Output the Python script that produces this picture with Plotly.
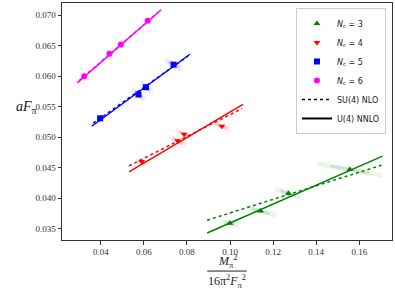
import plotly.graph_objects as go

# ---- data ----
n3_x = [0.0999, 0.1142, 0.1271, 0.1556]
n3_y = [0.0359, 0.0379, 0.0408, 0.0447]
n3_dx = [0.004, 0.007, 0.006, 0.015]
n3_dy = [0.0003, 0.0007, 0.0007, 0.0010]

n4_x = [0.0590, 0.0757, 0.0787, 0.0962]
n4_y = [0.0460, 0.0494, 0.0505, 0.0518]
n4_dx = [0.002, 0.004, 0.004, 0.004]
n4_dy = [0.0003, 0.0007, 0.0007, 0.0007]

n5_x = [0.0397, 0.0575, 0.0610, 0.0738]
n5_y = [0.0531, 0.0570, 0.0582, 0.0619]
n5_dx = [0.0015, 0.003, 0.003, 0.004]
n5_dy = [0.0002, 0.0008, 0.0008, 0.0008]

n6_x = [0.0323, 0.0440, 0.0493, 0.0618]
n6_y = [0.0600, 0.0637, 0.0652, 0.0691]
n6_dx = [0.001, 0.001, 0.001, 0.0012]
n6_dy = [0.0002, 0.0002, 0.0002, 0.0002]

# fit lines: endpoints (x0, x1), (y0, y1)
nlo_x = {3: [0.0894, 0.1703], 4: [0.0531, 0.1056], 5: [0.0365, 0.0805], 6: [0.0300, 0.0675]}
nlo_y = {3: [0.0364, 0.0454], 4: [0.0453, 0.0547], 5: [0.0523, 0.0633], 6: [0.0593, 0.0707]}
nnlo_x = {3: [0.0894, 0.1708], 4: [0.0531, 0.1060], 5: [0.0358, 0.0814], 6: [0.0291, 0.0681]}
nnlo_y = {3: [0.0343, 0.0469], 4: [0.0443, 0.0554], 5: [0.0518, 0.0636], 6: [0.0589, 0.0709]}

x_ticks = [0.04, 0.06, 0.08, 0.10, 0.12, 0.14, 0.16]
y_ticks = [0.035, 0.040, 0.045, 0.050, 0.055, 0.060, 0.065, 0.070]

series = [
    (3, n3_x, n3_y, n3_dx, n3_dy, "green", (0, 128, 0), "triangle-up"),
    (4, n4_x, n4_y, n4_dx, n4_dy, "red", (255, 0, 0), "triangle-down"),
    (5, n5_x, n5_y, n5_dx, n5_dy, "blue", (0, 0, 255), "square"),
    (6, n6_x, n6_y, n6_dx, n6_dy, "magenta", (255, 0, 255), "circle"),
]

fig = go.Figure()

for nc, xs, ys, dxs, dys, col, rgb, sym in series:
    fig.add_trace(go.Scatter(x=nlo_x[nc], y=nlo_y[nc], mode="lines",
                             line=dict(color=col, width=1.5, dash="dot"), showlegend=False))
    fig.add_trace(go.Scatter(x=nnlo_x[nc], y=nnlo_y[nc], mode="lines",
                             line=dict(color=col, width=1.5), showlegend=False))
    for frac, w, a in [(1.0, 5, 0.08), (0.6, 3, 0.15)]:
        sx, sy = [], []
        for x, y, dx, dy in zip(xs, ys, dxs, dys):
            sx += [x - frac * dx, x + frac * dx, None]
            sy += [y + frac * dy, y - frac * dy, None]
        fig.add_trace(go.Scatter(x=sx, y=sy, mode="lines",
                                 line=dict(color=f"rgba({rgb[0]},{rgb[1]},{rgb[2]},{a})", width=w),
                                 showlegend=False, hoverinfo="skip"))

for i, (nc, xs, ys, dxs, dys, col, rgb, sym) in enumerate(series):
    fig.add_trace(go.Scatter(x=xs, y=ys, mode="markers",
                             marker=dict(symbol=sym, color=col, size=6, line=dict(width=0)),
                             name=f"<i>N</i><sub><i>c</i></sub> = {nc}", legendrank=i + 1))

fig.add_trace(go.Scatter(x=[None], y=[None], mode="lines", line=dict(color="black", width=1.5, dash="dot"),
                         name="SU(4) NLO", legendrank=10))
fig.add_trace(go.Scatter(x=[None], y=[None], mode="lines", line=dict(color="black", width=2),
                         name="U(4) NNLO", legendrank=11))

serif = "Liberation Serif, DejaVu Serif, serif"
axis_common = dict(showline=True, linecolor="#333", linewidth=1, mirror=True, ticks="outside",
                   ticklen=3.5, tickcolor="#333", showgrid=False, zeroline=False,
                   tickfont=dict(family=serif, size=9, color="#333"))

fig.update_layout(
    width=395, height=290,
    margin=dict(l=62, r=3, t=3, b=50),
    plot_bgcolor="white", paper_bgcolor="white",
    xaxis=dict(range=[0.0220, 0.1752], tickvals=x_ticks, tickformat=".2f", **axis_common),
    yaxis=dict(range=[0.03315, 0.0720], tickvals=y_ticks, tickformat=".3f", **axis_common),
    legend=dict(x=0.709, y=0.979, xanchor="left", yanchor="top", bgcolor="rgba(255,255,255,0.8)",
                bordercolor="#ccc", borderwidth=1, font=dict(family="DejaVu Sans", size=8, color="#222"),
                tracegroupgap=0, itemwidth=30),
    showlegend=True,
)

fig.add_annotation(text="<i>aF</i><sub>π</sub>", x=-0.145, y=0.561, xref="paper", yref="paper",
                   showarrow=False, font=dict(family=serif, size=14, color="#222"))
fig.add_annotation(text="<i>M</i><sub>π</sub><sup>2</sup>", x=0.5, y=-0.09, xref="paper", yref="paper",
                   showarrow=False, font=dict(family=serif, size=12, color="#222"), yanchor="middle")
fig.add_annotation(text="16π<sup>2</sup><i>F</i><sub>π</sub><sup>2</sup>", x=0.5, y=-0.175, xref="paper",
                   yref="paper", showarrow=False, font=dict(family=serif, size=12, color="#222"),
                   yanchor="middle")
fig.add_shape(type="line", xref="paper", yref="paper", x0=0.44, x1=0.56, y0=-0.131, y1=-0.131,
              line=dict(color="#222", width=1))

fig.write_html("out.html", config={"displayModeBar": False},
               post_script="document.body.style.margin='0px';")
